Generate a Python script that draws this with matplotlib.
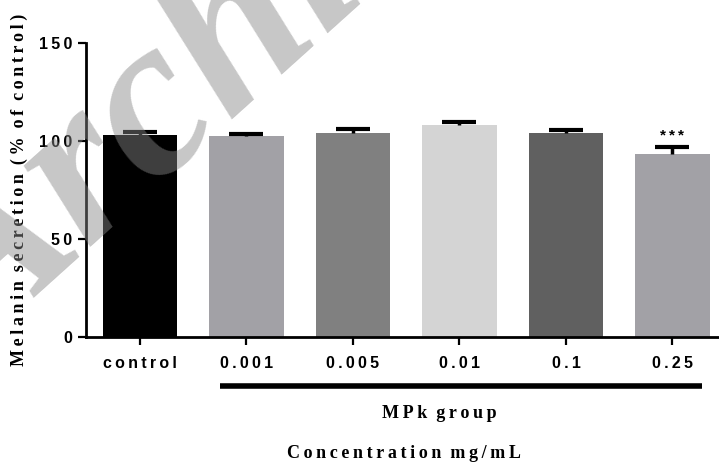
import matplotlib
matplotlib.use("Agg")
import matplotlib.pyplot as plt
import numpy as np

# valores (% do controle)
groups = ["control", "0.001", "0.005", "0.01", "0.1", "0.25"]
means = [103.0, 102.4, 104.0, 108.3, 104.1, 93.2]
sem = [1.5, 1.0, 2.0, 1.5, 1.5, 3.6]
colors = ["#000000", "#a2a1a6", "#808080", "#d4d4d4", "#606060", "#a2a1a6"]
yticks = [0, 50, 100, 150]

TS = "\u2009"  # thin space, imita o espaçamento entre letras


def spaced(s):
    return "  ".join(TS.join(w) for w in s.split(" "))


W, H = 719, 462
fig = plt.figure(figsize=(W / 100, H / 100), dpi=100)
ax = fig.add_axes([86 / W, 125 / H, 633 / W, 294 / H])

x = np.arange(len(groups))
ax.bar(x, means, width=0.7, color=colors, zorder=2)
eb = ax.errorbar(x, means, yerr=[np.zeros(len(sem)), sem], fmt="none", ecolor="black",
                 elinewidth=2.5, capsize=12.5, capthick=3, zorder=3)
eb[1][0].set_visible(False)  # so a barra de cima
ax.text(x[-1], means[-1] + sem[-1] + 6, spaced("***"), ha="center", va="center",
        fontsize=11, fontweight="bold", family=["Liberation Sans", "DejaVu Sans"])

ax.set_xlim(-0.507, -0.507 + 633 / 106.5)
ax.set_ylim(0, 150)
ax.set_yticks(yticks)
ax.set_yticklabels([spaced(str(v)) for v in yticks])
ax.set_xticks(x)
ax.set_xticklabels([spaced(g) for g in groups])
for lab in ax.get_xticklabels() + ax.get_yticklabels():
    lab.set_family(["Liberation Sans", "DejaVu Sans"])
    lab.set_fontweight("bold")
    lab.set_fontsize(11.5)
for s in ["top", "right"]:
    ax.spines[s].set_visible(False)
for s in ["left", "bottom"]:
    ax.spines[s].set_linewidth(2)
ax.tick_params(axis="y", length=6, width=1.6, pad=4)
ax.tick_params(axis="x", length=6, width=1.6, pad=8)

# barra do grupo MPk
ax.plot([0.751, 5.277], [-24.8, -24.8], color="black", lw=4, clip_on=False,
        solid_capstyle="butt")

serif = ["Liberation Serif", "DejaVu Serif"]
fig.text(439 / W, 1 - 413 / H, spaced("MPk group"), ha="center", va="center",
         fontsize=13, fontweight="bold", family=serif)
fig.text(404 / W, 1 - 453 / H, spaced("Concentration mg/mL"), ha="center", va="center",
         fontsize=13, fontweight="bold", family=serif)
fig.text(19 / W, 1 - 190 / H, spaced("Melanin secretion (% of control)"), rotation=90,
         ha="center", va="center", fontsize=13, fontweight="bold", family=serif)

# marca d'agua
fig.text(-22 / W, 1 - 360 / H, "Archive", rotation=42, rotation_mode="anchor",
         ha="left", va="baseline", fontsize=165, fontweight="bold", style="italic",
         family=serif, color="0.53", alpha=0.47, zorder=10)

fig.savefig("out.png", dpi=100)
